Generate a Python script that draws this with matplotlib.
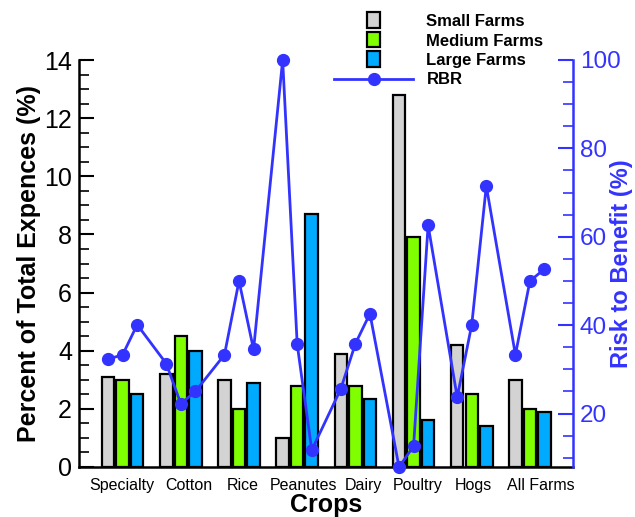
import numpy as np
import matplotlib.pyplot as plt
from matplotlib.patches import Rectangle
from matplotlib.legend_handler import HandlerPatch

plt.rcParams['font.family'] = ['Liberation Sans', 'DejaVu Sans']

crops = ['Specialty', 'Cotton', 'Rice', 'Peanutes', 'Dairy', 'Poultry', 'Hogs', 'All Farms']
label_pos = [-0.01, 1.13, 2.06, 3.11, 4.14, 5.07, 6.03, 7.18]

small = [3.1, 3.2, 3.0, 1.0, 3.9, 12.8, 4.2, 3.0]
medium = [3.0, 4.5, 2.0, 2.8, 2.8, 7.9, 2.5, 2.0]
large = [2.5, 4.0, 2.9, 8.7, 2.35, 1.6, 1.4, 1.9]

# risk to benefit, one point per farm size in each crop
rbr_small = [32.3, 31.3, 33.3, 100.0, 25.6, 7.9, 23.7, 33.3]
rbr_medium = [33.3, 22.2, 50.0, 35.7, 35.8, 12.6, 40.1, 50.0]
rbr_large = [40.1, 25.0, 34.5, 11.7, 42.6, 62.6, 71.5, 52.7]

GRAY = '#d3d3d3'
GREEN = '#80ff00'
CYAN = '#00aaff'
BLUE = '#3333ff'


def narrow_patch(legend, orig_handle, xdescent, ydescent, width, height, fontsize):
    w = 0.76 * fontsize
    h = 0.92 * fontsize
    return Rectangle((width / 2 - w / 2 - xdescent, height / 2 - h / 2 - ydescent), w, h)


def plot_chart():
    fig = plt.figure(figsize=(6.35, 5.17), dpi=100)
    ax = fig.add_axes([79 / 635, 50 / 517, 494 / 635, 407 / 517])
    index = np.arange(len(crops))
    off = 0.25
    bw = 0.215

    b1 = ax.bar(index - off, small, bw, color=GRAY, edgecolor='black', linewidth=1.6)
    b2 = ax.bar(index, medium, bw, color=GREEN, edgecolor='black', linewidth=1.6)
    b3 = ax.bar(index + off, large, bw, color=CYAN, edgecolor='black', linewidth=1.6)

    ax.set_xlim(-0.75, 7.74)
    ax.set_ylim(0, 14)
    ax.set_yticks(np.arange(0, 15, 2))
    ax.set_yticks(np.arange(0, 14.1, 0.5), minor=True)
    ax.tick_params(axis='y', direction='in', length=11, width=1.5, labelsize=18, pad=5)
    ax.tick_params(axis='y', which='minor', direction='in', length=7, width=1.2)
    ax.set_xticks(label_pos)
    ax.set_xticklabels(crops, fontsize=11.5)
    ax.tick_params(axis='x', length=0, pad=8)
    ax.spines['top'].set_visible(False)
    ax.spines['right'].set_visible(False)
    ax.spines['left'].set_linewidth(1.8)
    ax.spines['bottom'].set_linewidth(1.8)
    ax.set_ylabel('Percent of Total Expences (%)', fontsize=18, fontweight='bold', labelpad=2)
    ax.set_xlabel('Crops', fontsize=18, fontweight='bold', labelpad=0)

    ax2 = ax.twinx()
    xs = np.column_stack([index - off, index, index + off]).ravel()
    ys = np.column_stack([rbr_small, rbr_medium, rbr_large]).ravel()
    ln, = ax2.plot(xs, ys, color=BLUE, linewidth=2, marker='o', markersize=8.5, clip_on=False)
    ax2.set_ylim(min(ys), max(ys))
    ax2.set_yticks([20, 40, 60, 80, 100])
    ax2.set_yticks(np.arange(10, 101, 5), minor=True)
    ax2.tick_params(axis='y', direction='in', length=11, width=1.5, labelsize=17.5, pad=5,
                    colors=BLUE)
    ax2.tick_params(axis='y', which='minor', direction='in', length=7, width=1.2, colors=BLUE)
    for s in ['top', 'left', 'bottom']:
        ax2.spines[s].set_visible(False)
    ax2.spines['right'].set_color(BLUE)
    ax2.spines['right'].set_linewidth(1.8)
    ax2.set_ylabel('Risk to Benefit (%)', fontsize=17, fontweight='bold', color=BLUE, labelpad=-8)

    fig.legend([b1[0], b2[0], b3[0], ln], ['Small Farms', 'Medium Farms', 'Large Farms', 'RBR'],
               loc='upper left', bbox_to_anchor=(334 / 635, 1 - 14 / 517),
               frameon=False, handlelength=4.75, handletextpad=0.8, labelspacing=0.27,
               borderaxespad=0, borderpad=0,
               prop={'weight': 'bold', 'size': 12},
               handler_map={Rectangle: HandlerPatch(patch_func=narrow_patch)})
    fig.savefig('out.png', dpi=100)


if __name__ == "__main__":
    plot_chart()
